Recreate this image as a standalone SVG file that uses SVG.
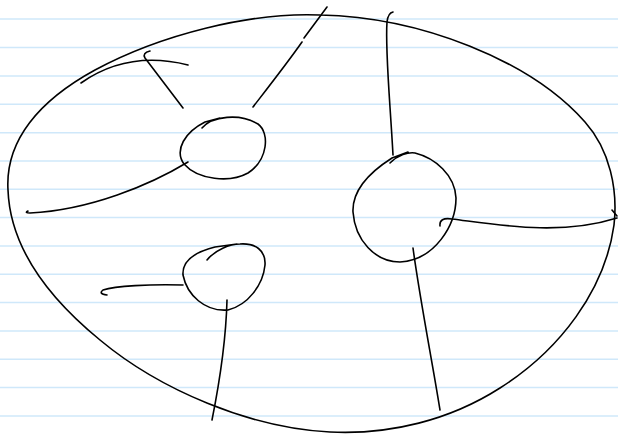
<svg xmlns="http://www.w3.org/2000/svg" width="618" height="435" viewBox="0 0 618 435">
<style>
.rule{stroke:#cfe8fa;stroke-width:1.5}
.ink{fill:none;stroke:#000;stroke-width:1.6;stroke-linecap:round;stroke-linejoin:round}
</style>
<rect width="618" height="435" fill="#fff"/>
<g id="ruling">
<line class="rule" x1="0" y1="19" x2="618" y2="19"/>
<line class="rule" x1="0" y1="47.5" x2="618" y2="47.5"/>
<line class="rule" x1="0" y1="76" x2="618" y2="76"/>
<line class="rule" x1="0" y1="104.3" x2="618" y2="104.3"/>
<line class="rule" x1="0" y1="132.7" x2="618" y2="132.7"/>
<line class="rule" x1="0" y1="161" x2="618" y2="161"/>
<line class="rule" x1="0" y1="189.3" x2="618" y2="189.3"/>
<line class="rule" x1="0" y1="217.6" x2="618" y2="217.6"/>
<line class="rule" x1="0" y1="246" x2="618" y2="246"/>
<line class="rule" x1="0" y1="274.3" x2="618" y2="274.3"/>
<line class="rule" x1="0" y1="302.6" x2="618" y2="302.6"/>
<line class="rule" x1="0" y1="331" x2="618" y2="331"/>
<line class="rule" x1="0" y1="359.3" x2="618" y2="359.3"/>
<line class="rule" x1="0" y1="387.6" x2="618" y2="387.6"/>
<line class="rule" x1="0" y1="416" x2="618" y2="416"/>
</g>
<g id="outer">
<path class="ink" d="M8,190 C5,140 40,100 95,70 C160,35 250,12 320,15 C420,17 530,60 585,122 C610,150 618,190 614,225 C605,290 560,350 500,388 C450,420 390,435 330,432 C250,428 160,390 100,340 C45,295 10,245 8,190 Z"/>
</g>
<g id="node1">
<path class="ink" d="M202,128 C212,116 240,113 258,124 C270,133 268,160 248,173 C230,183 198,180 184,164 C174,150 185,132 205,122 L220,118"/>
</g>
<g id="node2">
<path class="ink" d="M207,260 C215,250 230,244 240,244 C255,243 266,250 265,265 C263,285 248,305 228,310 C205,312 187,295 183,275 C182,260 195,252 215,247 L237,244"/>
</g>
<g id="node3">
<path class="ink" d="M390,163 C398,155 408,152 415,153 C435,158 455,175 456,198 C456,225 435,260 400,262 C375,262 355,240 353,212 C352,190 370,172 392,158 L408,152"/>
</g>
<g id="connectors">
<path class="ink" d="M188,162 C150,185 90,210 30,213 Q24,213 28,211"/>
<path class="ink" d="M183,108 L145,58 Q142,53 150,51"/>
<path class="ink" d="M81,83 Q128,50 188,65"/>
<path class="ink" d="M253,107 C270,85 288,62 302,42"/>
<path class="ink" d="M304,38 L327,7"/>
<path class="ink" d="M393,155 C390,100 385,50 387,22 Q388,13 393,12"/>
<path class="ink" d="M440,226 Q439,217 452,219 C500,225 560,236 617,218"/>
<path class="ink" d="M612,210 L617,216"/>
<path class="ink" d="M413,248 C420,300 432,360 440,410"/>
<path class="ink" d="M183,285 C150,284 115,286 103,290 Q98,294 107,295"/>
<path class="ink" d="M227,300 C226,340 220,380 212,420"/>
</g>
</svg>
